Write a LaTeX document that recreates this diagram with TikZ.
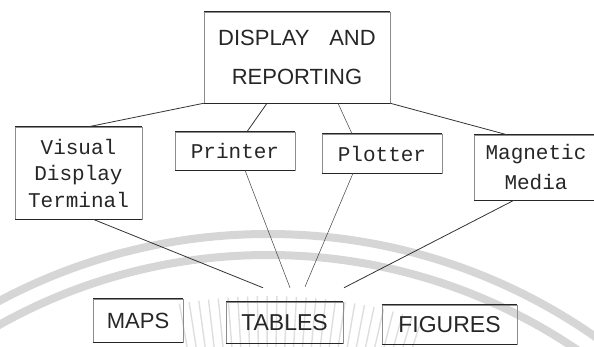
\documentclass[tikz,border=0pt]{standalone}
\usepackage{fontspec}
\setmainfont{Liberation Serif}
\newfontfamily\capsfont{Liberation Sans}
\newfontfamily\typefont{Liberation Mono}
\usetikzlibrary{calc}
\begin{document}
\begin{tikzpicture}[x=1pt,y=-1pt,
  every node/.style={text=black!85},
  frame/.style={draw=black!45, line width=0.5pt, inner sep=0pt, align=center},
  capslabel/.style={font=\capsfont\fontsize{22}{39}\selectfont},
  bigcaps/.style={font=\capsfont\fontsize{23}{27}\selectfont},
  typelabel/.style={font=\typefont\fontsize{21}{26.5}\selectfont},
  rule/.style={draw=black!85, line width=1.1pt},
  link/.style={draw=black!80, line width=0.8pt},
  faint/.style={draw=black!70, line width=0.55pt},
  band/.style={draw=black!16, line width=8pt},
  ray/.style={draw=black!13, line width=1.4pt}]
\useasboundingbox (0,0) rectangle (594,347);

% faint emblem behind the chart: two rings and a sunburst
\begin{scope}
  \clip (0,0) rectangle (594,347);
  \coordinate (wm) at (268,806);
  \draw[band] (wm) circle[radius=572];
  \draw[band] (wm) circle[radius=551];
  \foreach \a in {260,261.1,...,288}
    \draw[ray] ($(wm)+(\a:440)$) -- ($(wm)+(\a:510)$);
\end{scope}

% boxes
\node[frame, capslabel, minimum width=186, minimum height=91] (top) at (297,57.5)
  {DISPLAY\hspace{0.9em}AND\\REPORTING};
\node[frame, typelabel, minimum width=127, minimum height=92] (vdt) at (78.5,173)
  {Visual\\Display\\Terminal};
\node[frame, typelabel, minimum width=120, minimum height=38] (printer) at (235,151) {Printer};
\node[frame, typelabel, minimum width=120, minimum height=39] (plotter) at (382,153.5) {Plotter};
\node[frame, font=\typefont\fontsize{21}{30}\selectfont, minimum width=124, minimum height=65] (mag) at (536,167.5)
  {Magnetic\\Media};
\node[frame, capslabel, minimum width=90, minimum height=43] (maps) at (138,320.5) {MAPS};
\node[frame, bigcaps, minimum width=117, minimum height=41] (tables) at (284.5,322.5) {TABLES};
\node[frame, bigcaps, minimum width=135, minimum height=39] (figures) at (449.5,324.5) {FIGURES};

% heavier top and bottom edges
\foreach \n in {top,vdt,printer,plotter,mag,maps,tables,figures} {
  \draw[rule] (\n.north west) -- (\n.north east);
  \draw[rule] (\n.south west) -- (\n.south east);
}

% meeting points above TABLES
\coordinate (h1) at ($(tables.north)+(-21.5,-14)$);
\coordinate (h2) at ($(tables.north)+(5.5,-14)$);
\coordinate (h3) at ($(tables.north)+(20.5,-15)$);
\coordinate (h4) at ($(tables.north)+(59.5,-14)$);

% connectors from the top box
\draw[link] (top.south west) -- ($(vdt.north)+(10,0)$);
\draw[link] ($(top.south)+(-30,0)$) -- ($(printer.north)+(12,0)$);
\draw[faint] ($(top.south)+(41,0)$) -- ($(plotter.north)+(-30,0)$);
\draw[link] (top.south east) -- ($(mag.north)+(-29,0)$);

% connectors down to the outputs
\draw[link] ($(vdt.south)+(14.5,0)$) -- (h1);
\draw[faint] ($(printer.south)+(10,0)$) -- (h2);
\draw[faint] ($(plotter.south)+(-29,0)$) -- (h3);
\draw[link] ($(mag.south)+(-22,0)$) -- (h4);
\end{tikzpicture}
\end{document}
